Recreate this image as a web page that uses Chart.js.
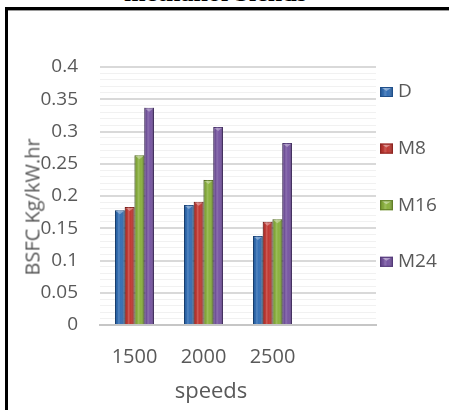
<!DOCTYPE html>
<html>
<head>
<meta charset="utf-8">
<script src="https://cdn.jsdelivr.net/npm/chart.js@4/dist/chart.umd.min.js"></script>
<style>
  html, body { margin: 0; padding: 0; background: #fff; }
  #wrap { position: relative; width: 449px; height: 410px; overflow: hidden; background: #fff; }
  #chartBox { position: absolute; left: 0; top: 0; width: 449px; height: 410px; }
  #caption {
    position: absolute; left: 0; width: 431px; top: -20px; text-align: center;
    font: bold 26px "Liberation Serif", "DejaVu Serif", serif; line-height: 26px; color: #000;
  }
  #frame {
    position: absolute; left: 5px; top: 7px; right: -10px; bottom: -10px;
    border-left: 3px solid #000; border-top: 3px solid #000;
  }
  #frameShade { position: absolute; left: 8px; top: 10px; right: 0; height: 1px; background: #9a9a9a; }
  .axisTitle { position: absolute; font-family: "Open Sans", sans-serif; color: #595959; white-space: nowrap; }
  #yTitle { font-size: 20px; left: 32px; top: 207px; transform: translate(-50%, -50%) rotate(-90deg); }
  #xTitle { font-size: 22px; left: 211px; top: 389px; transform: translate(-50%, -50%); }
</style>
</head>
<body>
<div id="wrap">
  <div id="caption">methanol blends</div>
  <div id="frame"></div>
  <div id="frameShade"></div>
  <div id="chartBox"><canvas id="c"></canvas></div>
  <div class="axisTitle" id="yTitle">BSFC Kg/kW.hr</div>
  <div class="axisTitle" id="xTitle">speeds</div>
</div>
<script>
// Engine speeds (the last slot is an empty category, as in the original sheet)
const speeds = ['1500', '2000', '2500', ''];

// BSFC values per blend
const seriesNames = ['D', 'M8', 'M16', 'M24'];
const dieselD = [0.178, 0.186, 0.138, null];
const blendM8 = [0.183, 0.191, 0.160, null];
const blendM16 = [0.263, 0.225, 0.164, null];
const blendM24 = [0.337, 0.307, 0.282, null];

// Value axis labels (shown every 0.05, minor grid every 0.01)
const yTickLabels = ['0', '0.05', '0.1', '0.15', '0.2', '0.25', '0.3', '0.35', '0.4'];

const baseColors = ['#2f6cb4', '#c0352f', '#88b03a', '#7452a0'];
const edgeColors = ['#1f4f8a', '#8e2420', '#627f27', '#533979'];

const seriesValues = [dieselD, blendM8, blendM16, blendM24];

const shadeBar = (ctx, x0, x1) => {
  const g = ctx.createLinearGradient(x0, 0, x1, 0);
  g.addColorStop(0, 'rgba(0,0,0,0.28)');
  g.addColorStop(0.18, 'rgba(0,0,0,0.05)');
  g.addColorStop(0.38, 'rgba(255,255,255,0.18)');
  g.addColorStop(0.6, 'rgba(255,255,255,0.02)');
  g.addColorStop(1, 'rgba(0,0,0,0.32)');
  return g;
};

// Gloss shading over each bar, like the bevelled Office bars
const barShading = {
  id: 'barShading',
  afterDatasetsDraw(chart) {
    const ctx = chart.ctx;
    chart.data.datasets.forEach((ds, di) => {
      const meta = chart.getDatasetMeta(di);
      meta.data.forEach((bar, i) => {
        if (ds.data[i] == null) return;
        const { x, y, base, width } = bar.getProps(['x', 'y', 'base', 'width'], true);
        const x0 = x - width / 2, x1 = x + width / 2;
        ctx.save();
        ctx.fillStyle = shadeBar(ctx, x0, x1);
        ctx.fillRect(x0, y, width, base - y);
        // small light cap at the top
        ctx.fillStyle = 'rgba(255,255,255,0.35)';
        ctx.beginPath();
        ctx.moveTo(x0 + 1, y + 1);
        ctx.lineTo(x1 - 1, y + 1);
        ctx.lineTo(x, y + 4);
        ctx.closePath();
        ctx.fill();
        ctx.restore();
      });
    });
  }
};

// Legend to the right of the plot, one entry per series
const sideLegend = {
  id: 'sideLegend',
  afterDraw(chart, args, opts) {
    const ctx = chart.ctx;
    const left = chart.chartArea.right + opts.gap;
    chart.data.datasets.forEach((ds, i) => {
      const cy = opts.top + i * opts.step;
      const bx = left, by = cy - opts.box / 2;
      ctx.save();
      ctx.fillStyle = ds.backgroundColor;
      ctx.fillRect(bx, by, opts.boxW, opts.box);
      ctx.fillStyle = shadeBar(ctx, bx, bx + opts.boxW);
      ctx.fillRect(bx, by, opts.boxW, opts.box);
      ctx.fillStyle = 'rgba(255,255,255,0.4)';
      ctx.beginPath();
      ctx.moveTo(bx + 2, by + 1);
      ctx.lineTo(bx + opts.boxW - 2, by + 1);
      ctx.lineTo(bx + opts.boxW / 2, by + 4);
      ctx.closePath();
      ctx.fill();
      ctx.strokeStyle = ds.borderColor;
      ctx.lineWidth = 1;
      ctx.strokeRect(bx + 0.5, by + 0.5, opts.boxW - 1, opts.box - 1);
      ctx.fillStyle = '#595959';
      ctx.font = opts.font;
      ctx.textBaseline = 'middle';
      ctx.textAlign = 'left';
      ctx.fillText(ds.label, bx + opts.boxW + 5, cy);
      ctx.restore();
    });
  }
};

new Chart(document.getElementById('c'), {
  type: 'bar',
  data: {
    labels: speeds,
    datasets: seriesNames.map((name, i) => ({
      label: name,
      data: seriesValues[i],
      backgroundColor: baseColors[i],
      borderColor: edgeColors[i],
      borderWidth: 1,
      barPercentage: 1,
      categoryPercentage: 0.565
    }))
  },
  options: {
    responsive: true,
    maintainAspectRatio: false,
    animation: false,
    layout: { padding: { top: 67, right: 73, left: 0, bottom: 0 } },
    plugins: {
      legend: { display: false },
      tooltip: { enabled: false },
      sideLegend: { gap: 4, top: 92, step: 56.6, box: 10, boxW: 13, font: '19px "Open Sans", sans-serif' }
    },
    scales: {
      x: {
        grid: { display: false, drawTicks: false },
        border: { display: true, color: '#c6c6c6', width: 2 },
        ticks: { color: '#595959', font: { family: 'Open Sans', size: 20 }, padding: 20, maxRotation: 0 },
        afterFit(axis) { axis.height = 85; }
      },
      y: {
        min: 0,
        max: 0.4,
        grid: {
          drawTicks: false,
          color: (c) => (c.tick && Math.round(c.tick.value * 100) % 5 === 0) ? '#d9d9d9' : '#f1f1f1',
          lineWidth: (c) => (c.tick && Math.round(c.tick.value * 100) % 5 === 0) ? 2 : 1
        },
        border: { display: false },
        ticks: {
          stepSize: 0.01,
          autoSkip: false,
          color: '#595959',
          font: { family: 'Open Sans', size: 19 },
          padding: 22,
          callback: (v) => {
            const hundredths = Math.round(v * 100);
            return hundredths % 5 === 0 ? yTickLabels[hundredths / 5] : '';
          }
        },
        afterFit(axis) { axis.width = 100; }
      }
    }
  },
  plugins: [barShading, sideLegend]
});
</script>
</body>
</html>
